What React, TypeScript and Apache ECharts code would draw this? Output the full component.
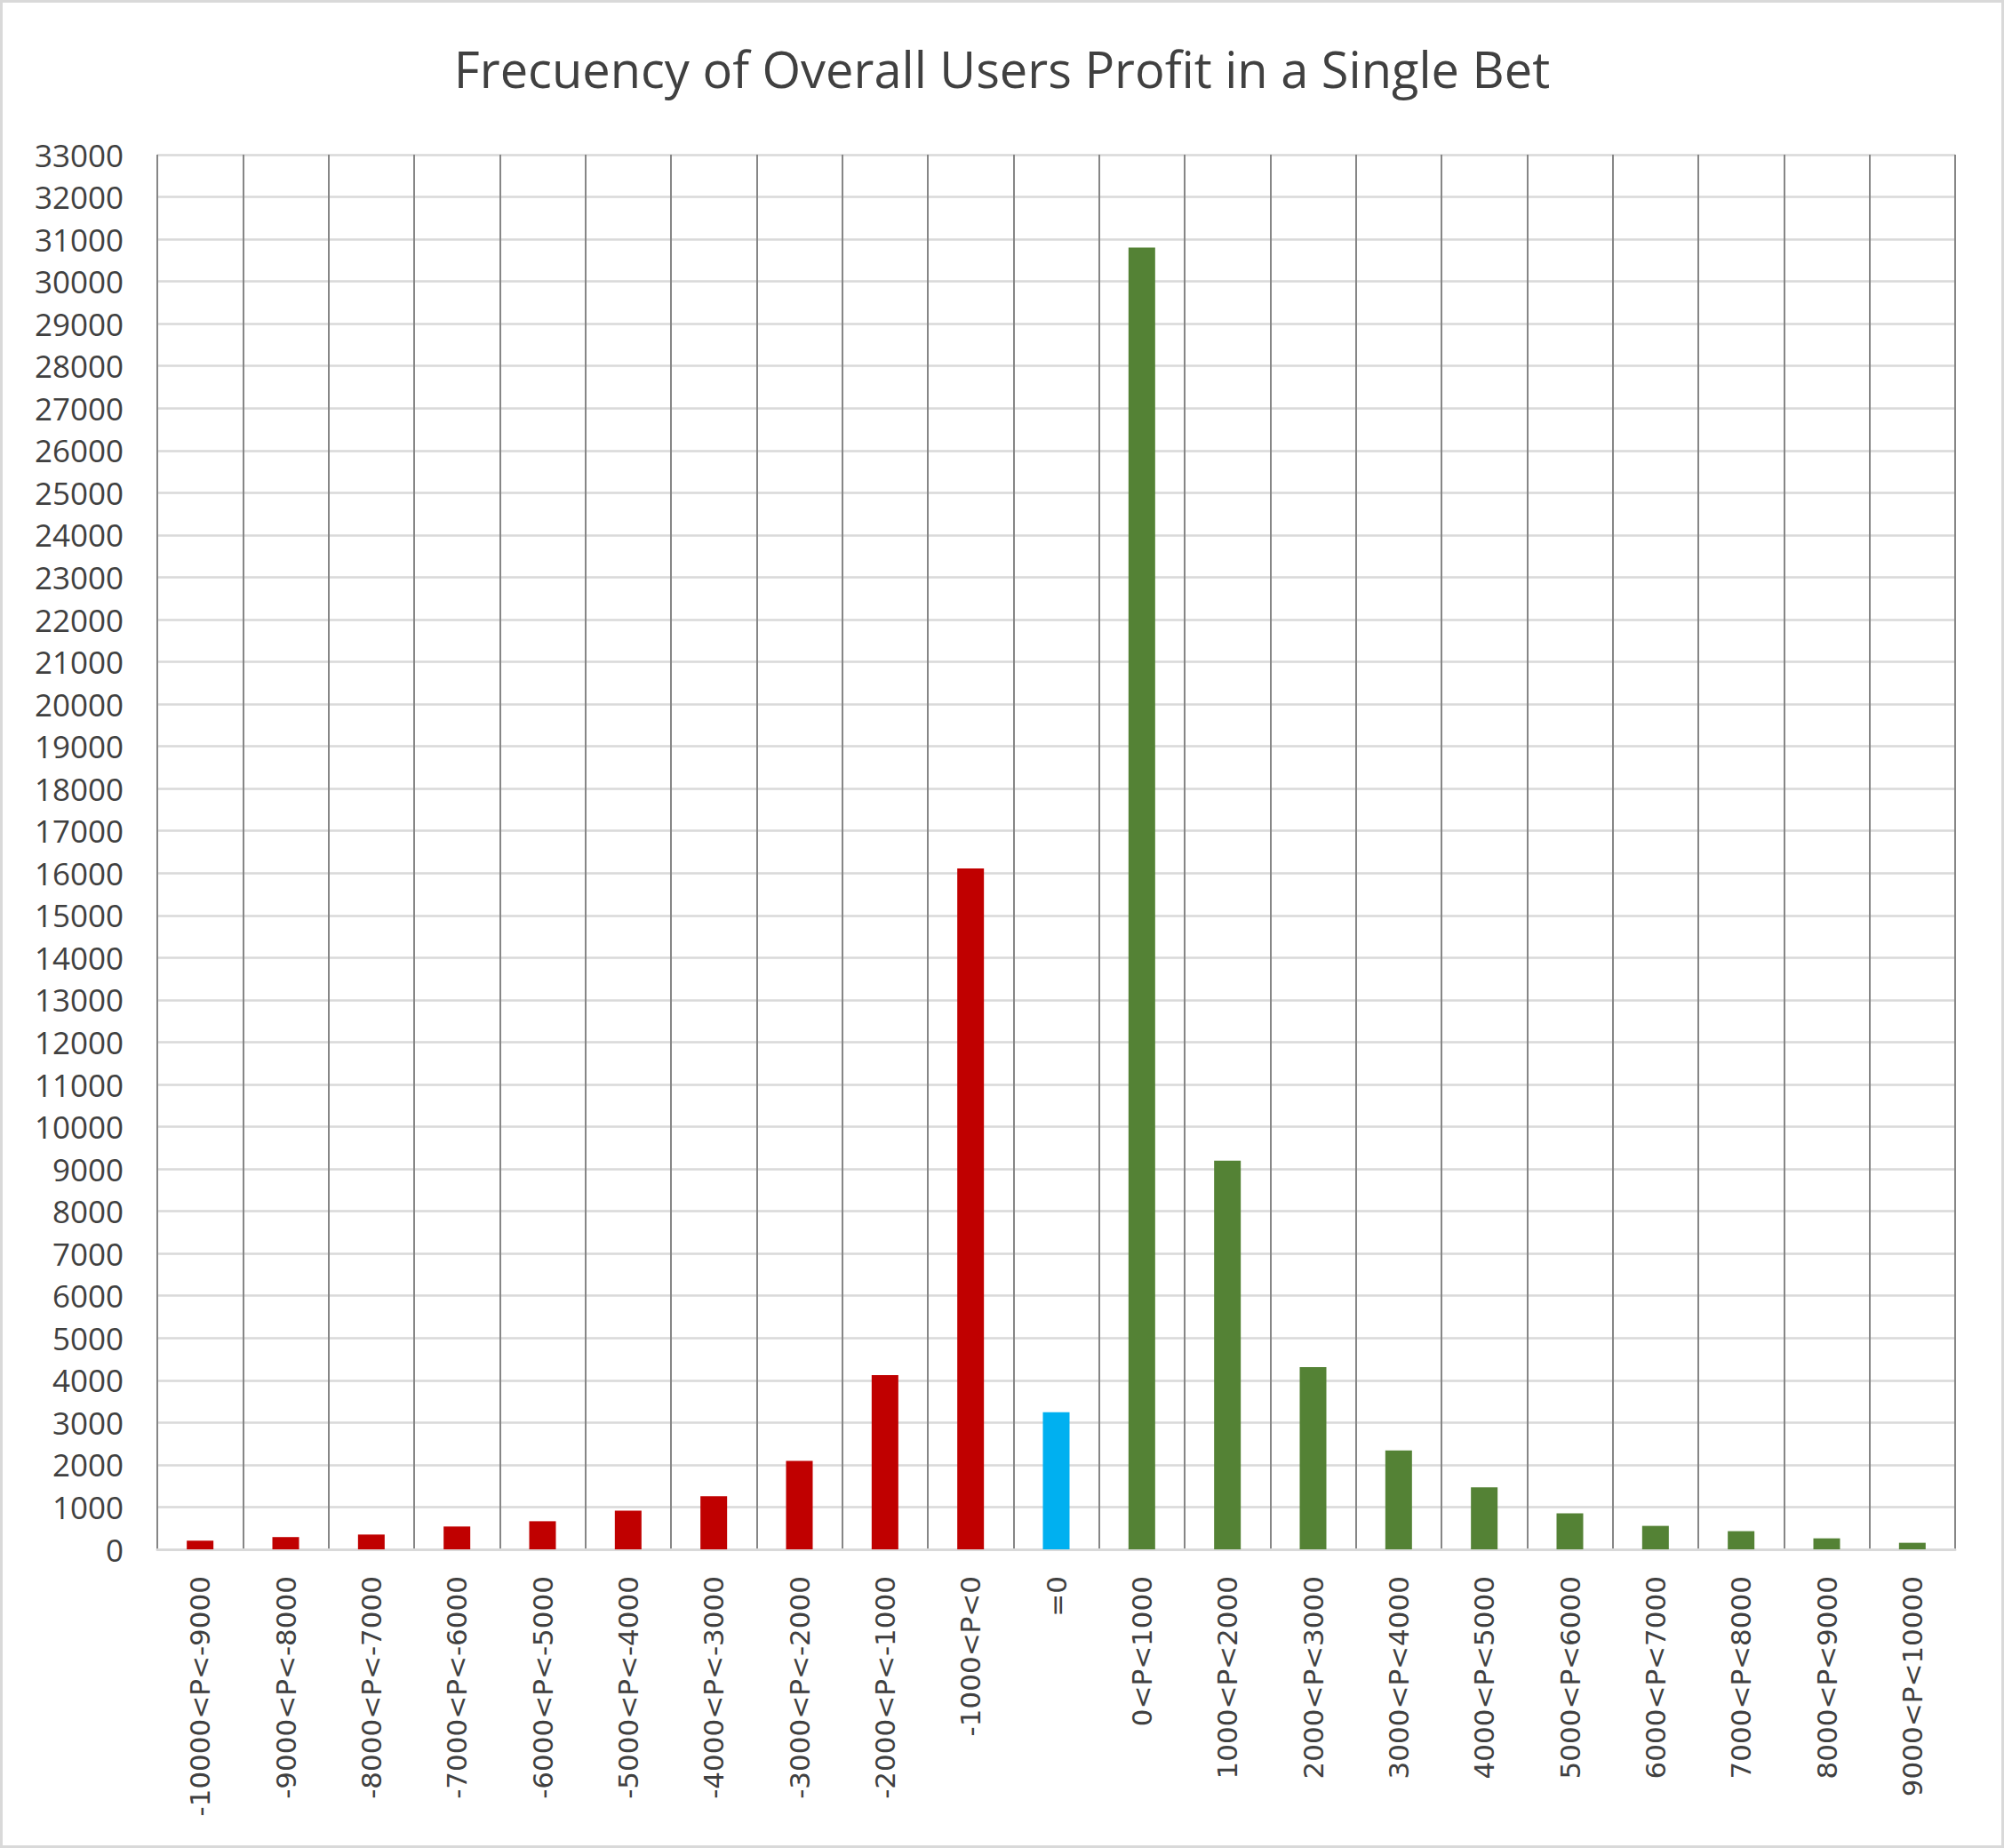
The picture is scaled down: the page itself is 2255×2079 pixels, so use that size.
import React, { useEffect, useRef } from 'react';
import * as echarts from 'echarts';

const categories = [
    '-10000<P<-9000', '-9000<P<-8000', '-8000<P<-7000', '-7000<P<-6000', '-6000<P<-5000',
    '-5000<P<-4000', '-4000<P<-3000', '-3000<P<-2000', '-2000<P<-1000', '-1000<P<0',
    '=0',
    '0<P<1000', '1000<P<2000', '2000<P<3000', '3000<P<4000', '4000<P<5000',
    '5000<P<6000', '6000<P<7000', '7000<P<8000', '8000<P<9000', '9000<P<10000',
];

const counts = [
    205, 290, 350, 540, 665, 915, 1255, 2095, 4125, 16110,
    3245,
    30800, 9195, 4310, 2340, 1465, 850, 555, 430, 260, 155,
];

const yMax = 33000;
const yStep = 1000;

const colorFor = (label: string) => {
    if (label.startsWith('-')) return '#C00000';
    if (label === '=0') return '#00B0F0';
    return '#548235';
};

export default function App() {
    const chartRef = useRef<HTMLDivElement>(null);

    useEffect(() => {
        document.body.style.margin = '0';
        const chart = echarts.init(chartRef.current!, null, { renderer: 'svg' });

        chart.setOption({
            animation: false,
            backgroundColor: '#ffffff',
            title: {
                text: 'Frecuency of Overall Users Profit in a Single Bet',
                left: 'center',
                top: 41,
                textStyle: {
                    fontFamily: 'Open Sans',
                    fontSize: 56,
                    fontWeight: 'normal',
                    color: '#404040',
                },
            },
            grid: {
                left: 174,
                right: 52,
                top: 171,
                bottom: 333,
            },
            xAxis: {
                type: 'category',
                data: categories,
                axisTick: { show: false },
                axisLine: { lineStyle: { color: '#d9d9d9', width: 3 } },
                splitLine: {
                    show: true,
                    interval: 0,
                    lineStyle: { color: '#868686', width: 2 },
                },
                axisLabel: {
                    interval: 0,
                    rotate: 90,
                    margin: 30,
                    fontFamily: 'DejaVu Sans',
                    fontSize: 31,
                    color: '#404040',
                },
            },
            yAxis: {
                type: 'value',
                min: 0,
                max: yMax,
                interval: yStep,
                axisLine: { show: false },
                axisTick: { show: false },
                splitLine: { lineStyle: { color: '#d9d9d9', width: 2.5 } },
                axisLabel: {
                    margin: 38,
                    fontFamily: 'Open Sans',
                    fontSize: 35,
                    color: '#404040',
                    formatter: (v: number) => String(v),
                },
            },
            series: [
                {
                    type: 'bar',
                    barWidth: 30,
                    data: counts.map((v, i) => ({
                        value: v,
                        itemStyle: { color: colorFor(categories[i]) },
                    })),
                },
            ],
        });

        return () => {
            chart.dispose();
        };
    }, []);

    return (
        <div
            ref={chartRef}
            style={{
                width: 2255,
                height: 2079,
                boxSizing: 'border-box',
                border: '3px solid #d9d9d9',
            }}
        />
    );
}
